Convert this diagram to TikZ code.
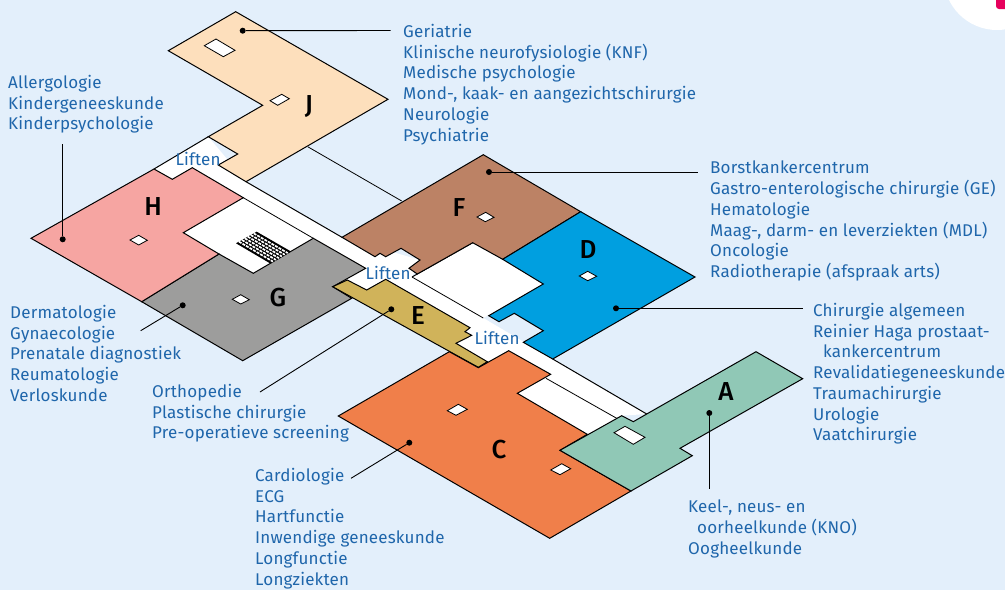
\documentclass[tikz,border=0pt]{standalone}
\usepackage{fontspec}
\setmainfont{Fira Sans}[LetterSpace=1.1]
\newfontfamily\wingfont{Fira Sans}[UprightFont=* Medium]
\usetikzlibrary{calc}

\definecolor{bgblue}{HTML}{E3EFFB}
\definecolor{textblue}{HTML}{1F66AB}
\definecolor{wingA}{HTML}{90C8B6}
\definecolor{wingC}{HTML}{F07F4A}
\definecolor{wingD}{HTML}{009FE0}
\definecolor{wingE}{HTML}{D0B35A}
\definecolor{wingF}{HTML}{BC8265}
\definecolor{wingG}{HTML}{9D9D9C}
\definecolor{wingH}{HTML}{F6A5A2}
\definecolor{wingJ}{HTML}{FDDFBC}
\definecolor{cornerpink}{HTML}{E6005C}

\tikzset{
  wing/.style={draw=black, line width=1pt, line join=miter},
  hole/.style={draw=black, fill=white, line width=0.8pt},
  thinline/.style={draw=black, line width=0.8pt},
  leader/.style={draw=black, line width=0.9pt},
  dot/.style={circle, fill=black, inner sep=0pt, minimum size=6pt},
  deptlist/.style={anchor=north west, inner sep=0pt, align=left, text=textblue,
    font=\fontsize{17}{20.75}\selectfont},
  liftlabel/.style={inner sep=0pt, text=textblue, font=\fontsize{17}{20}\selectfont},
  wingletter/.style={inner sep=0pt, font=\wingfont\fontsize{26}{26}\selectfont}
}

\begin{document}
\begin{tikzpicture}[x=1pt,y=-1pt]
  % Background
  \fill[bgblue] (0,0) rectangle (1005,590);
  \useasboundingbox (0,0) rectangle (1005,590);

  % Corner
  \begin{scope}
    \clip (0,0) rectangle (1005,590);
    \fill[white] (997,-23.4) circle (53.4);
    \fill[cornerpink, rounded corners=3pt] (996,-10) rectangle (1012,9);
  \end{scope}

  % Corridors
  \fill[white] (208.3,136.7) -- (246,181.7) -- (342,237.3) -- (420,260) -- (412,277) -- (483.3,318)
    -- (552.7,359) -- (646.7,414) -- (621.7,415.7) -- (587.3,434.3) -- (517.3,393.3) -- (478.3,367.7)
    -- (456,343.3) -- (347.3,280) -- (253.3,273.3) -- (183.3,232.7) -- (154,169) -- cycle;
  \fill[white] (472.7,242.7) -- (543.3,284) -- (483.3,318) -- (412,277) -- cycle;
  \draw[wing] (208.3,136.7) -- (154,169);
  \draw[wing] (246,181.7) -- (342,237.3);
  \draw[thinline] (243.3,197.7) -- (313.3,238.3);
  \draw[thinline] (307.7,146.7) -- (401.7,201);
  \draw[wing] (472.7,242.7) -- (412,277);
  \draw[thinline] (412,277) -- (483.3,318);
  \draw[wing] (552.7,359) -- (646.7,414);
  \draw[thinline] (546,378.3) -- (616.7,418.3);

  % Wings
  \draw[wing, fill=wingJ] (235.7,11.7) -- (388,99.3) -- (246,181.7) -- (218.3,165) -- (237.7,154)
    -- (208.3,136.7) -- (262.7,105.3) -- (168.3,50.7) -- cycle;
  \draw[wing, fill=wingG] (219,254) -- (253.3,273.3) -- (313.3,238.3) -- (365.7,268.3) -- (332.7,286.7)
    -- (351.7,298.3) -- (242.7,360.7) -- (141.7,301.7) -- cycle;
  \draw[wing, fill=wingH] (154,169) -- (172.3,179.3) -- (192.3,167.7) -- (243.3,197.7) -- (183.3,232.7)
    -- (219,254) -- (141.7,301.7) -- (31,238.3) -- cycle;
  \draw[wing, fill=wingF] (483.3,154.7) -- (580.7,211.7) -- (502.7,259.3) -- (472.7,242.7) -- (417.3,274)
    -- (409,268.3) -- (420,260) -- (401,248.3) -- (385.7,256.7) -- (380,253.3) -- (375,256.7) -- (342,237.3) -- cycle;
  \draw[wing, fill=wingD] (580.7,211.7) -- (695,277) -- (552.7,359) -- (523.3,342.3) -- (543.3,330.7)
    -- (514.3,313.3) -- (499,321.7) -- (488.7,315.7) -- (543.3,284) -- (502.7,259.3) -- cycle;
  \draw[wing, fill=wingE] (332.7,286.7) -- (347.3,280) -- (366.7,290) -- (385.7,279.3) -- (470,327.7)
    -- (465,331.7) -- (471.7,335.3) -- (456,343.3) -- (487.3,361.7) -- (478.3,367.3) -- (449.3,351.3) -- cycle;
  \draw[wing, fill=wingC] (449.3,351.7) -- (478.3,367.7) -- (508.7,350.7) -- (550.7,374.3) -- (517.3,393.3)
    -- (587.3,434.3) -- (560,450.3) -- (631,491) -- (549.7,538.3) -- (338.3,416) -- cycle;
  \draw[wing, fill=wingA] (621.7,415.7) -- (633.3,421.7) -- (646.7,414) -- (756,351.7) -- (802.7,378.7)
    -- (680,448.3) -- (692.3,455.7) -- (631,491) -- (560,450.3) -- cycle;

  % Holes
  \draw[hole] (204.3,45.7) -- (216,39) -- (235,50.3) -- (223.3,56.7) -- cycle;
  \draw[hole] (270,100.7) -- (281.7,94.3) -- (289.3,98.7) -- (277.7,105.3) -- cycle;
  \draw[hole] (130,240) -- (138.7,235.3) -- (147.3,240.3) -- (138.7,245) -- cycle;
  \draw[hole] (232.3,299.3) -- (240.7,294.7) -- (249.3,299.7) -- (240.7,304) -- cycle;
  \draw[hole] (477,217) -- (485.7,212.3) -- (494,217.3) -- (485.3,221.7) -- cycle;
  \draw[hole] (579.3,276) -- (587.7,271.3) -- (596.7,276.3) -- (587.7,280.7) -- cycle;
  \draw[hole] (447.3,410.7) -- (458.3,404.3) -- (467.3,409.3) -- (456,415.3) -- cycle;
  \draw[hole] (550.7,470) -- (561.7,463.7) -- (570.7,468.7) -- (560,474.7) -- cycle;
  \draw[hole] (614,432.7) -- (625,426.3) -- (645,437.3) -- (633.3,444.3) -- cycle;

  % Stairs
  \coordinate (stairA) at (236,243.3);
  \coordinate (stairB) at (256.7,231.7);
  \coordinate (stairC) at (290.7,251.3);
  \coordinate (stairD) at (270,263.3);
  \fill[black] (stairA) -- (stairB) -- (stairC) -- (stairD) -- cycle;
  \foreach \r in {1,...,6} {
    \draw[white, line width=1.7pt, dash pattern=on 3pt off 1.1pt]
      ($(stairA)!\r/7!(stairB)$) -- ($(stairD)!\r/7!(stairC)$);
  }

  % Wing letters
  \node[wingletter] (letterJ) at (309,107) {J};
  \node[wingletter] (letterH) at (153,207) {H};
  \node[wingletter] (letterG) at (278,298) {G};
  \node[wingletter] (letterF) at (459,208) {F};
  \node[wingletter] (letterD) at (588,250) {D};
  \node[wingletter] (letterE) at (418,316) {E};
  \node[wingletter] (letterC) at (499,450) {C};
  \node[wingletter] (letterA) at (726,392) {A};

  % Lifts
  \node[liftlabel] (liftH) at (198,159) {Liften};
  \node[liftlabel] (liftF) at (388,273) {Liften};
  \node[liftlabel] (liftD) at (497,338) {Liften};

  % Department lists
  \node[deptlist] (listJ) at (403,24) {Geriatrie\\Klinische neurofysiologie (KNF)\\Medische psychologie\\Mond-, kaak- en aangezichtschirurgie\\Neurologie\\Psychiatrie};
  \node[deptlist] (listH) at (8,75) {Allergologie\\Kindergeneeskunde\\Kinderpsychologie};
  \node[deptlist] (listF) at (710,161) {Borstkankercentrum\\Gastro-enterologische chirurgie (GE)\\Hematologie\\Maag-, darm- en leverziekten (MDL)\\Oncologie\\Radiotherapie (afspraak arts)};
  \node[deptlist] (listD) at (813,303) {Chirurgie algemeen\\Reinier Haga prostaat-\\\hspace{10pt}kankercentrum\\Revalidatiegeneeskunde\\Traumachirurgie\\Urologie\\Vaatchirurgie};
  \node[deptlist] (listG) at (10,305) {Dermatologie\\Gynaecologie\\Prenatale diagnostiek\\Reumatologie\\Verloskunde};
  \node[deptlist] (listE) at (152,384) {Orthopedie\\Plastische chirurgie\\Pre-operatieve screening};
  \node[deptlist] (listC) at (255,468) {Cardiologie\\ECG\\Hartfunctie\\Inwendige geneeskunde\\Longfunctie\\Longziekten};
  \node[deptlist] (listA) at (688,500) {Keel-, neus- en\\\hspace{9pt}oorheelkunde (KNO)\\Oogheelkunde};

  % Leaders
  \node[dot] (dotJ) at (242.7,30.7) {};
  \node[dot] (dotH) at (62.7,239.3) {};
  \node[dot] (dotG) at (182.7,305.3) {};
  \node[dot] (dotF) at (489,172) {};
  \node[dot] (dotD) at (616,308.3) {};
  \node[dot] (dotE) at (391.3,309.3) {};
  \node[dot] (dotC) at (409.3,442.7) {};
  \node[dot] (dotA) at (709.3,413) {};
  \coordinate (endJ) at (390.7,30.5);
  \coordinate (endH) at (62.7,144);
  \coordinate (endG) at (140.7,330.7);
  \coordinate (endF) at (698.3,172);
  \coordinate (endD) at (803,308.3);
  \coordinate (endE) at (260,392);
  \coordinate (endC) at (351,478.3);
  \coordinate (endA) at (709.3,489.3);
  \foreach \w in {J,H,G,F,D,E,C,A} {
    \draw[leader] (dot\w) -- (end\w);
  }
\end{tikzpicture}
\end{document}
